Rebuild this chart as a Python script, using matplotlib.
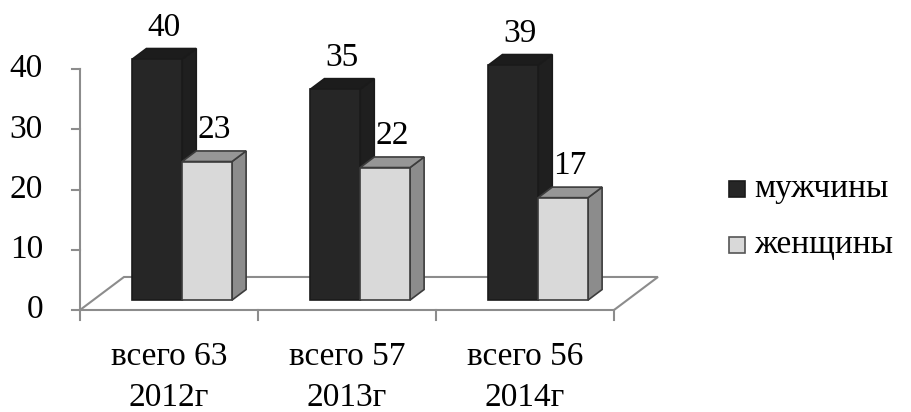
import matplotlib
matplotlib.use("Agg")
import matplotlib.pyplot as plt
from matplotlib.patches import Polygon

years = ["2012г", "2013г", "2014г"]
totals = [63, 57, 56]
men = [40, 35, 39]
women = [23, 22, 17]
series_names = ["мужчины", "женщины"]
yticks = [0, 10, 20, 30, 40]

plt.rcParams["font.family"] = ["Liberation Serif", "DejaVu Serif"]
FS = 24

# pseudo-3d geometry (data units: x = category, y = value)
DX, DY = 0.247, 5.48          # floor depth offset
F0, F1 = 0.30, 0.62           # front/back depth of bars on the floor
BAR_W = 0.28

# face colours: front, top, side
DARK = ("#262626", "#1c1c1c", "#1f1f1f")
LIGHT = ("#d9d9d9", "#969696", "#8c8c8c")
EDGE_DARK = "#1a1a1a"
EDGE_LIGHT = "#3c3c3c"
GRID = "#8c8c8c"

fig = plt.figure(figsize=(9.12, 4.12), dpi=100)
ax = fig.add_axes([0, 0, 1, 1])
px_x = 178.0
px_y = 6.025
ax.set_xlim(-80 / px_x, (912 - 80) / px_x)
ax.set_ylim(-(412 - 310) / px_y, 310 / px_y)
ax.axis("off")

# floor
floor = [(0, 0), (3, 0), (3 + DX, DY), (DX, DY)]
ax.add_patch(Polygon(floor, closed=True, fill=False, edgecolor=GRID, lw=1.5, zorder=1))

# y axis with ticks
ax.plot([0, 0], [0, 40], color=GRID, lw=1.5, zorder=1)
tick_dx = 8 / px_x
for v in yticks:
    ax.plot([-tick_dx, 0], [v, v], color=GRID, lw=1.5, zorder=1)
    ax.text(-37 / px_x, v, str(v), ha="right", va="center", fontsize=FS)

# x ticks at category boundaries
for i in range(4):
    ax.plot([i, i], [0, -10 / px_y], color=GRID, lw=1.5, zorder=1)

for i in range(3):
    ax.text(i + 0.5, -47 / px_y, "всего %d" % totals[i], ha="center", va="center", fontsize=FS)
    ax.text(i + 0.5, -88 / px_y, years[i], ha="center", va="center", fontsize=FS)


def draw_bar(x0, h, colors, edge):
    fx, fy = F0 * DX, F0 * DY
    bx, by = F1 * DX, F1 * DY
    x1 = x0 + BAR_W
    front = [(x0 + fx, fy), (x1 + fx, fy), (x1 + fx, h + fy), (x0 + fx, h + fy)]
    top = [(x0 + fx, h + fy), (x1 + fx, h + fy), (x1 + bx, h + by), (x0 + bx, h + by)]
    side = [(x1 + fx, fy), (x1 + bx, by), (x1 + bx, h + by), (x1 + fx, h + fy)]
    for pts, c in ((side, colors[2]), (top, colors[1]), (front, colors[0])):
        ax.add_patch(Polygon(pts, closed=True, facecolor=c, edgecolor=edge, lw=1.2, zorder=3))
    cx = x0 + BAR_W / 2 + fx + 0.04
    ax.text(cx, h + by + 21 / px_y, str(h), ha="center", va="center", fontsize=FS, zorder=4)


# draw dark bars first so the light ones overlap their side faces
for i in range(3):
    x0 = i + 0.5 - BAR_W
    draw_bar(x0, men[i], DARK, EDGE_DARK)
    draw_bar(x0 + BAR_W, women[i], LIGHT, EDGE_LIGHT)

# legend
for k, (name, cols, edge) in enumerate(zip(series_names, (DARK, LIGHT), (EDGE_DARK, EDGE_LIGHT))):
    y = (310 - 189 - 56 * k) / px_y
    ax.plot([(737 - 80) / px_x], [y], marker="s", markersize=12, color=cols[0],
            markeredgecolor="#555555" if k else edge, markeredgewidth=1.2, zorder=5)
    ax.text((754 - 80) / px_x, y, name, ha="left", va="center", fontsize=FS)

fig.savefig("out.png", dpi=100)
